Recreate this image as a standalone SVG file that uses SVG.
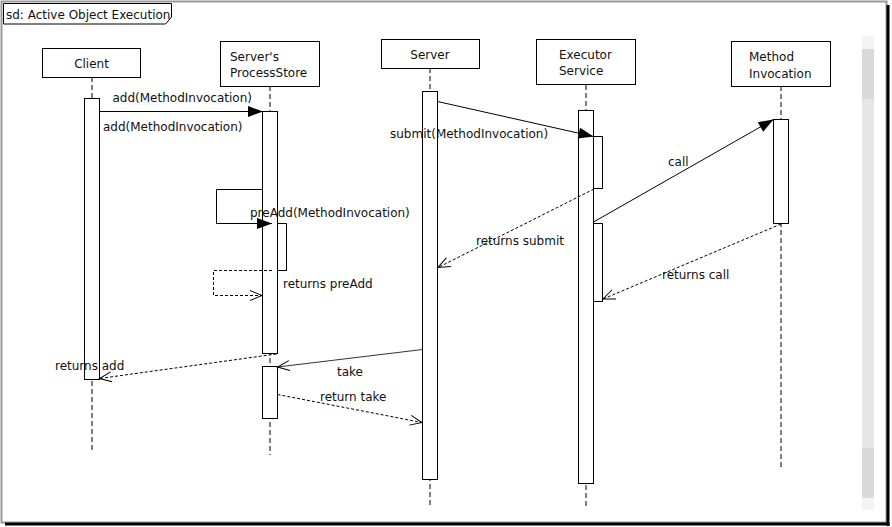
<svg xmlns="http://www.w3.org/2000/svg" width="892" height="527" viewBox="0 0 892 527">
  <style>
    text { font-family: "DejaVu Sans", "Liberation Sans", sans-serif; font-size: 12px; fill: #111; }
    .head { fill: #fff; stroke: #000; stroke-width: 1; }
    .life { stroke: #000; stroke-width: 1; stroke-dasharray: 5,3; fill: none; }
    .act { fill: #fff; stroke: #000; stroke-width: 1; }
    .call { stroke: #000; stroke-width: 1; fill: none; marker-end: url(#solidHead); }
    .ret { stroke: #000; stroke-width: 1; stroke-dasharray: 3,2; fill: none; marker-end: url(#openHead); }
    .take { stroke: #333; stroke-width: 1; fill: none; marker-end: url(#openHead); }
  </style>
  <defs>
    <marker id="solidHead" markerUnits="userSpaceOnUse" markerWidth="16" markerHeight="12" refX="15" refY="5.5" orient="auto" overflow="visible">
      <path d="M0,0 L15,5.5 L0,11 Z" fill="#000"/>
    </marker>
    <marker id="openHead" markerUnits="userSpaceOnUse" markerWidth="14" markerHeight="12" refX="12" refY="5" orient="auto" overflow="visible">
      <path d="M0,0 L12,5 L0,10" fill="none" stroke="#000" stroke-width="1"/>
    </marker>
  </defs>

  <!-- canvas frame with shadow -->
  <rect x="1.5" y="1.5" width="885" height="521" fill="#fff" stroke="#999" stroke-width="2"/>
  <rect x="886.5" y="5" width="3" height="521" fill="#000"/>
  <rect x="5" y="522.5" width="884.5" height="3" fill="#000"/>

  <!-- scroll strip -->
  <g id="scrollbar">
    <rect x="862" y="36" width="12" height="13" fill="#f4f4f4"/>
    <rect x="862" y="49" width="12" height="50" fill="#d9d9d9"/>
    <rect x="862" y="99" width="12" height="349" fill="#e6e6e6"/>
    <rect x="862" y="448" width="12" height="50" fill="#d9d9d9"/>
    <rect x="862" y="498" width="12" height="12" fill="#f4f4f4"/>
  </g>

  <!-- sequence frame label -->
  <g id="frame-label">
    <path d="M3.5,24 L3.5,3.5 L171.5,3.5 L171.5,17 L165.5,24 Z" fill="#fff" stroke="#000" stroke-width="1"/>
    <text x="6" y="19">sd: Active Object Execution</text>
  </g>

  <!-- Client -->
  <g id="client">
    <line class="life" x1="92" y1="77" x2="92" y2="452"/>
    <rect class="head" x="42.5" y="48.5" width="98" height="29"/>
    <text x="91.5" y="68" text-anchor="middle">Client</text>
    <rect class="act" x="84.5" y="98.5" width="15" height="281"/>
  </g>

  <!-- Server's ProcessStore -->
  <g id="process-store">
    <line class="life" x1="270" y1="86" x2="270" y2="455"/>
    <rect class="head" x="220.5" y="41.5" width="99" height="45"/>
    <text x="230" y="61">Server's</text>
    <text x="230" y="77">ProcessStore</text>
    <rect class="act" x="262.5" y="111.5" width="15" height="242"/>
    <rect class="act" x="277.5" y="223.5" width="9" height="47"/>
    <rect class="act" x="262.5" y="366.5" width="15" height="52"/>
  </g>

  <!-- Server -->
  <g id="server">
    <line class="life" x1="430" y1="68" x2="430" y2="506"/>
    <rect class="head" x="381.5" y="39.5" width="98" height="29"/>
    <text x="430" y="59" text-anchor="middle">Server</text>
    <rect class="act" x="422.5" y="91.5" width="15" height="388"/>
  </g>

  <!-- Executor Service -->
  <g id="executor-service">
    <line class="life" x1="586" y1="85" x2="586" y2="508"/>
    <rect class="head" x="536.5" y="39.5" width="99" height="45"/>
    <text x="559" y="59">Executor</text>
    <text x="559" y="75">Service</text>
    <rect class="act" x="578.5" y="110.5" width="15" height="373"/>
    <rect class="act" x="593.5" y="136.5" width="9" height="52"/>
    <rect class="act" x="593.5" y="223.5" width="9" height="78"/>
  </g>

  <!-- Method Invocation -->
  <g id="method-invocation">
    <line class="life" x1="781" y1="86" x2="781" y2="470"/>
    <rect class="head" x="731.5" y="41.5" width="99" height="45"/>
    <text x="749" y="61">Method</text>
    <text x="749" y="78">Invocation</text>
    <rect class="act" x="773.5" y="119.5" width="15" height="104"/>
  </g>

  <!-- messages -->
  <g id="connectors">
    <line class="call" x1="99.5" y1="111.5" x2="263" y2="111.5"/>
    <polyline class="call" points="262.5,189.5 216.5,189.5 216.5,223.5 272,223.5"/>
    <polyline class="ret" points="272,270.5 213.5,270.5 213.5,295.5 262,295.5"/>
    <line class="call" x1="437.5" y1="101.5" x2="593.5" y2="136.5"/>
    <line class="call" x1="593.5" y1="222" x2="773.5" y2="119.5"/>
    <line class="ret" x1="781" y1="224" x2="603" y2="299"/>
    <line class="ret" x1="594" y1="189" x2="438" y2="267.5"/>
    <line class="ret" x1="276.5" y1="354" x2="99.5" y2="378.5"/>
    <line class="take" x1="422.5" y1="349.5" x2="277.5" y2="367"/>
    <line class="ret" x1="277.5" y1="394.5" x2="422" y2="422.5"/>
  </g>

  <!-- message labels -->
  <g id="labels">
    <text x="112.5" y="102">add(MethodInvocation)</text>
    <text x="103" y="131">add(MethodInvocation)</text>
    <text x="250" y="217">preAdd(MethodInvocation)</text>
    <text x="283" y="288">returns preAdd</text>
    <text x="390" y="138">submit(MethodInvocation)</text>
    <text x="668" y="166">call</text>
    <text x="662" y="279">returns call</text>
    <text x="476" y="245">returns submit</text>
    <text x="55" y="370">returns add</text>
    <text x="337" y="376">take</text>
    <text x="320" y="401">return take</text>
  </g>
</svg>
